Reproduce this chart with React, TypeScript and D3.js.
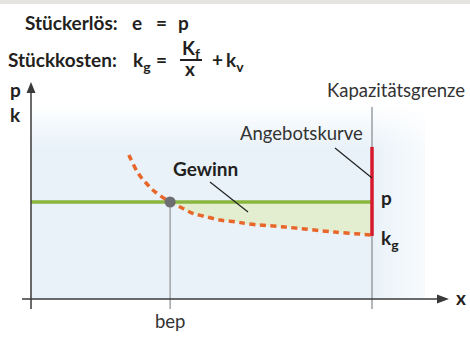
import React from "react";
import * as d3 from "d3";

// ---- data ----
const costX = [2.87, 3.14, 3.4, 3.64, 4.08, 4.43, 4.72, 5.04, 5.54, 6.04, 6.36, 7.45, 8.91, 10];
const costK = [7.42, 6.49, 5.93, 5.52, 5.0, 4.69, 4.43, 4.28, 4.07, 3.97, 3.87, 3.71, 3.45, 3.3];
const price = 5;
const bep = 4.08;
const capacity = 10;
const supplyRange = [3.25, 7.84];
const capacityTop = 9.9;
const panelMax = [11.55, 10];

const W = 470;
const H = 338;
const FONT = "Lato, 'Open Sans', sans-serif";
const TXT = "#231f20";

export default function App() {
  const x = d3.scaleLinear().domain([0, 10]).range([31, 372]);
  const y = d3.scaleLinear().domain([0, 10]).range([299, 105]);

  const pts: [number, number][] = costX.map((v, i) => [v, costK[i]]);
  const line = d3
    .line<[number, number]>()
    .x((d) => x(d[0]))
    .y((d) => y(d[1]))
    .curve(d3.curveCatmullRom);
  const area = d3
    .area<[number, number]>()
    .x((d) => x(d[0]))
    .y0((d) => y(d[1]))
    .y1(() => y(price))
    .curve(d3.curveCatmullRom);
  const gainPts = pts.filter((d) => d[0] >= bep);

  const x0 = x(0);
  const y0 = y(0);
  const axisColor = "#3a3a3a";

  return (
    <svg
      width={W}
      height={H}
      style={{ position: "absolute", left: 0, top: 0, background: "#fff" }}
      fontFamily={FONT}
    >
      <defs>
        <linearGradient id="vgrad" x1="0" y1="0" x2="0" y2="1">
          <stop offset="0" stopColor="#ffffff" />
          <stop offset="0.22" stopColor="#e9f2f9" />
          <stop offset="1" stopColor="#e9f2f9" />
        </linearGradient>
        <linearGradient id="hgrad" x1="0" y1="0" x2="1" y2="0">
          <stop offset="0" stopColor="#ffffff" stopOpacity="0" />
          <stop offset="1" stopColor="#ffffff" stopOpacity="0.7" />
        </linearGradient>
      </defs>
      {/* top grey band */}
      <rect x={0} y={0} width={W} height={4} fill="#e6e4e1" />

      {/* panel */}
      <rect
        x={x0}
        y={y(panelMax[1])}
        width={x(panelMax[0]) - x0}
        height={y0 - y(panelMax[1])}
        fill="url(#vgrad)"
      />
      <rect
        x={x(capacity)}
        y={y(panelMax[1])}
        width={x(panelMax[0]) - x(capacity)}
        height={y0 - y(panelMax[1])}
        fill="url(#hgrad)"
      />

      {/* gain area */}
      <path d={area(gainPts) || ""} fill="#e3edcf" />

      {/* vertical guide lines */}
      <line x1={x(bep)} x2={x(bep)} y1={y(price)} y2={y0 + 10} stroke="#a0a4a7" strokeWidth={1.5} />
      <line x1={x(capacity)} x2={x(capacity)} y1={y(capacityTop)} y2={y0 + 10} stroke="#9a9ea1" strokeWidth={1.5} />

      {/* price line */}
      <line x1={x0} x2={x(capacity)} y1={y(price)} y2={y(price)} stroke="#8ab53f" strokeWidth={3.5} />

      {/* cost curve */}
      <path
        d={line(pts) || ""}
        fill="none"
        stroke="#e8662a"
        strokeWidth={3.5}
        strokeDasharray="6 4.5"
      />

      {/* supply curve */}
      <line
        x1={x(capacity)}
        x2={x(capacity)}
        y1={y(supplyRange[1])}
        y2={y(supplyRange[0])}
        stroke="#d7192c"
        strokeWidth={3.5}
      />

      {/* bep dot */}
      <circle cx={x(bep)} cy={y(price)} r={5.5} fill="#6d6e71" />

      {/* axes */}
      <line x1={x0} x2={x0} y1={y0 + 10} y2={92} stroke={axisColor} strokeWidth={1.5} />
      <path d={`M${x0},82 L${x0 - 4.5},93 L${x0 + 4.5},93 Z`} fill={axisColor} />
      <line x1={22} x2={438} y1={y0} y2={y0} stroke={axisColor} strokeWidth={1.5} />
      <path d={`M449,${y0} L437,${y0 - 4.5} L437,${y0 + 4.5} Z`} fill={axisColor} />

      {/* leader lines */}
      <line x1={335} y1={148} x2={x(capacity)} y2={178} stroke="#222" strokeWidth={1.2} />
      <line x1={210} y1={182} x2={248} y2={212} stroke="#222" strokeWidth={1.2} />

      {/* formulas */}
      <g fill={TXT} fontWeight={700} fontSize={19}>
        <text x={25} y={30}>Stückerlös:</text>
        <text x={132} y={30}>e</text>
        <text x={156} y={30}>=</text>
        <text x={178} y={30}>p</text>

        <text x={8} y={67}>Stückkosten:</text>
        <text x={133} y={67}>
          k<tspan fontSize={14} dy={5}>g</tspan>
        </text>
        <text x={156} y={67}>=</text>
        <text x={182} y={55}>
          K<tspan fontSize={14} dy={4}>f</tspan>
        </text>
        <text x={185} y={76}>x</text>
        <text x={212} y={67}>+</text>
        <text x={226} y={67}>
          k<tspan fontSize={14} dy={5}>v</tspan>
        </text>

        <text x={10} y={97}>p</text>
        <text x={10} y={122}>k</text>
        <text x={173} y={176}>Gewinn</text>
        <text x={381} y={205}>p</text>
        <text x={381} y={245}>
          k<tspan fontSize={14} dy={5}>g</tspan>
        </text>
        <text x={456} y={305}>x</text>
      </g>
      <rect x={180} y={59} width={22} height={2} fill={TXT} />

      <g fill="#333" fontSize={18.5} fontWeight={400}>
        <text x={327} y={97}>Kapazitätsgrenze</text>
        <text x={240} y={140}>Angebotskurve</text>
        <text x={x(bep)} y={328} textAnchor="middle">bep</text>
      </g>
    </svg>
  );
}
